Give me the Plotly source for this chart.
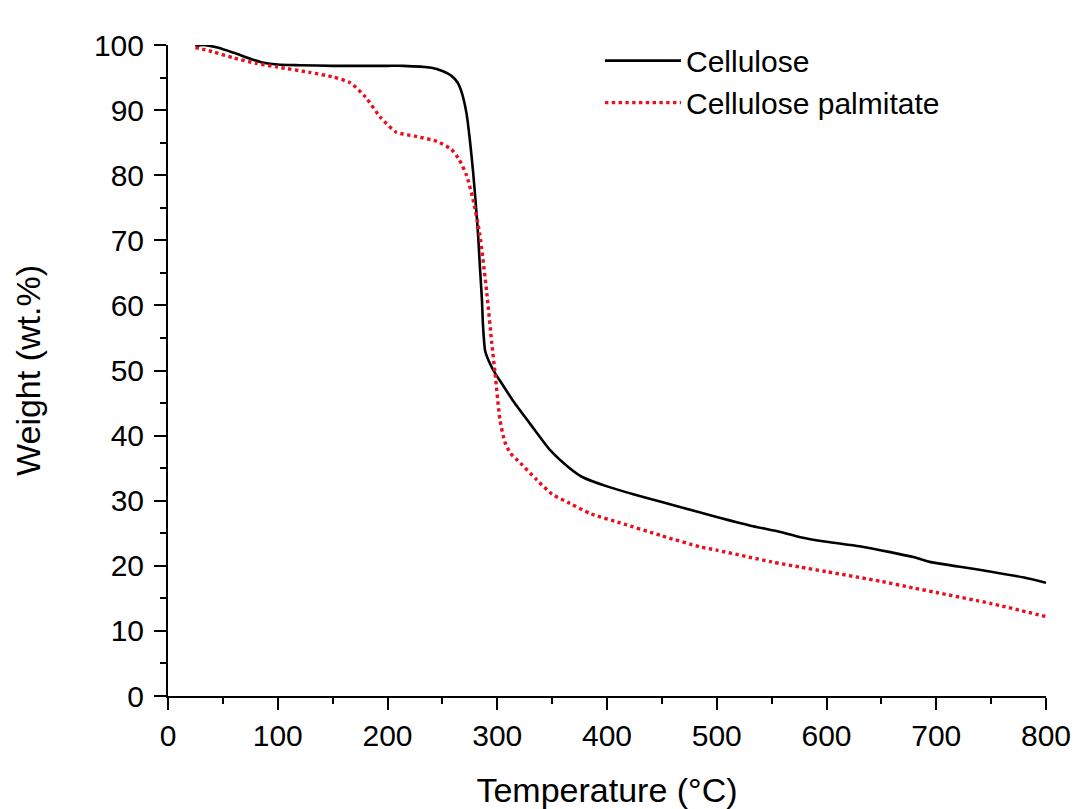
import plotly.graph_objects as go

# Cellulose (black solid)
cell_T = [25, 32, 45, 60, 84, 100, 120, 150, 200, 214, 240, 250, 258, 264, 268, 272, 275, 278, 280, 282.5, 284, 286, 287, 289, 293, 298, 303, 315, 330, 348, 366, 378, 400, 424, 450, 485, 500, 530, 558, 576, 600, 630, 658, 680, 694, 720, 750, 780, 800]
cell_W = [99.8, 100.0, 99.6, 98.8, 97.4, 97.0, 96.9, 96.8, 96.8, 96.8, 96.5, 96.0, 95.3, 94.2, 92.5, 89.5, 85.5, 80.5, 76.5, 71.0, 66.5, 61.0, 57.0, 53.0, 51.2, 49.6, 48.3, 45.2, 41.8, 37.8, 35.0, 33.6, 32.2, 31.0, 29.8, 28.2, 27.5, 26.2, 25.2, 24.4, 23.7, 23.0, 22.1, 21.3, 20.6, 19.9, 19.1, 18.2, 17.4]

# Cellulose palmitate (red dotted)
palm_T = [25, 40, 60, 80, 100, 129, 150, 166, 180, 193, 208, 225, 245, 258, 265, 272, 278, 284, 290.5, 295, 298, 302.5, 307, 312, 321, 336, 350, 366, 385, 412, 450, 485, 500, 550, 576, 600, 650, 679, 700, 750, 800]
palm_W = [99.6, 99.0, 98.0, 97.2, 96.6, 95.8, 95.1, 94.2, 92.0, 89.0, 86.6, 86.0, 85.2, 84.0, 82.5, 80.0, 76.2, 71.0, 61.9, 54.2, 49.6, 42.4, 39.0, 37.3, 35.8, 33.2, 31.0, 29.6, 28.0, 26.6, 24.6, 22.9, 22.4, 20.6, 19.8, 19.1, 17.6, 16.6, 15.9, 14.2, 12.2]

x_ticks = [0, 100, 200, 300, 400, 500, 600, 700, 800]
y_ticks = [0, 10, 20, 30, 40, 50, 60, 70, 80, 90, 100]

FONT = "Liberation Sans, Arial, sans-serif"

fig = go.Figure()
fig.add_trace(go.Scatter(x=cell_T, y=cell_W, mode="lines", name="Cellulose",
                         line=dict(color="black", width=2.6, shape="spline", smoothing=0.6)))
fig.add_trace(go.Scatter(x=palm_T, y=palm_W, mode="lines", name="Cellulose palmitate",
                         line=dict(color="#e8101e", width=3.4, dash="dot", shape="spline", smoothing=0.6)))

axis_common = dict(
    showline=True, linecolor="black", linewidth=2,
    ticks="outside", ticklen=12, tickwidth=2, tickcolor="black",
    showgrid=False, zeroline=False, mirror=False, automargin=False,
    tickfont=dict(family=FONT, size=30, color="black"),
)

fig.update_xaxes(range=[0, 800], tickvals=x_ticks, ticktext=[str(v) for v in x_ticks],
                 minor=dict(ticks="outside", ticklen=6, tickwidth=2, tickcolor="black", dtick=50, tick0=0),
                 title=dict(text="Temperature (°C)", font=dict(family=FONT, size=34, color="black"), standoff=28),
                 ticklabelstandoff=0,
                 **axis_common)
fig.update_yaxes(range=[0, 100], tickvals=y_ticks, ticktext=[str(v) for v in y_ticks],
                 minor=dict(ticks="outside", ticklen=6, tickwidth=2, tickcolor="black", dtick=5, tick0=0),
                 title=dict(text="Weight (wt.%)", font=dict(family=FONT, size=34, color="black"), standoff=43),
                 ticklabelstandoff=4,
                 **axis_common)

fig.update_layout(
    width=1071, height=801,
    margin=dict(l=160, r=33, t=37, b=113, autoexpand=False),
    paper_bgcolor="white", plot_bgcolor="white",
    legend=dict(x=0.492, y=1.016, xanchor="left", yanchor="top", bgcolor="rgba(0,0,0,0)",
                font=dict(family=FONT, size=30, color="black"), itemwidth=76,
                tracegroupgap=0),
)

fig.write_html("out.html")
